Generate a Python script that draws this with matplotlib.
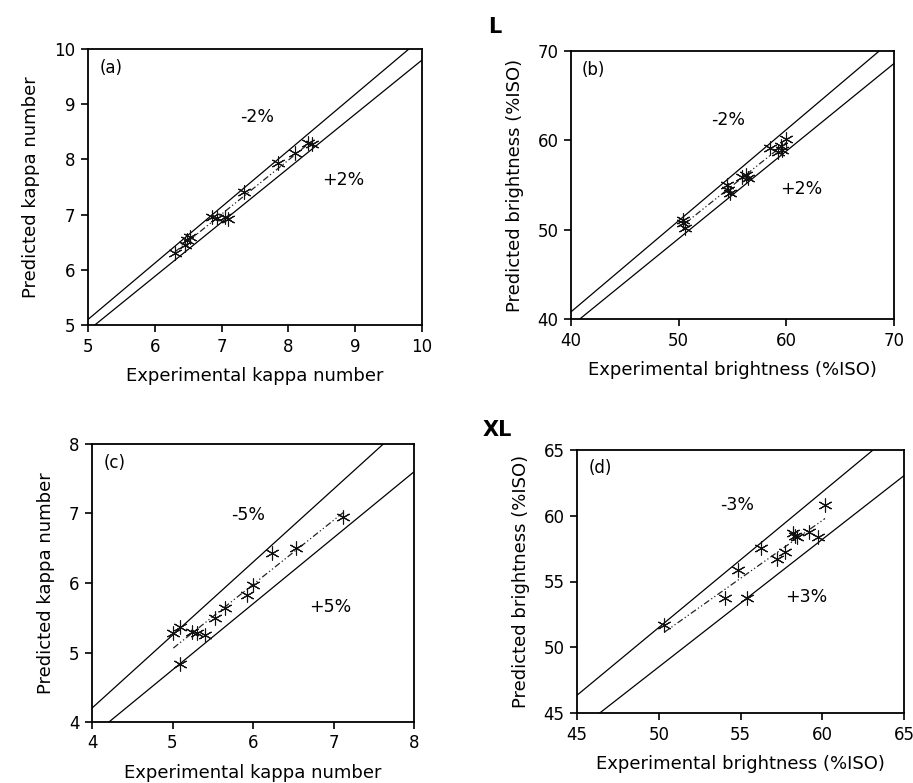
import numpy as np
import matplotlib
matplotlib.use("Agg")
import matplotlib.pyplot as plt

plt.rcParams['font.family'] = ['DejaVu Sans']

# ---------------- data ----------------
# (a) L kappa
a_exp = [6.30, 6.45, 6.48, 6.53, 6.85, 6.93, 7.05, 7.10, 7.33, 7.85, 8.10, 8.30, 8.35]
a_pred = [6.30, 6.45, 6.54, 6.60, 6.96, 6.93, 6.96, 6.92, 7.41, 7.93, 8.11, 8.29, 8.27]
# (b) L brightness
b_exp = [50.4, 50.6, 50.4, 54.5, 54.6, 54.8, 55.9, 56.3, 56.4, 58.5, 59.25, 59.6, 60.0, 59.5]
b_pred = [51.1, 50.15, 50.7, 55.0, 54.45, 54.1, 55.9, 56.1, 55.8, 59.1, 58.7, 58.9, 60.2, 59.4]
# (c) XL kappa
c_exp = [5.01, 5.09, 5.09, 5.24, 5.30, 5.40, 5.53, 5.65, 5.92, 6.00, 6.23, 6.54, 7.12]
c_pred = [5.28, 5.37, 4.84, 5.30, 5.28, 5.25, 5.49, 5.64, 5.83, 5.97, 6.43, 6.50, 6.95]
# (d) XL brightness
d_exp = [50.34, 54.05, 55.38, 54.87, 56.25, 57.21, 57.72, 58.23, 58.33, 58.43, 59.21, 59.76, 60.17]
d_pred = [51.69, 53.72, 53.72, 55.87, 57.52, 56.71, 57.27, 58.71, 58.46, 58.40, 58.79, 58.41, 60.82]

panels = [
    dict(label="(a)", x=a_exp, y=a_pred, lim=(5, 10), ticks=[5, 6, 7, 8, 9, 10], tol=0.02,
         upper="-2%", lower="+2%", up_pos=(7.53, 8.77), lo_pos=(8.82, 7.63),
         xlabel="Experimental kappa number", ylabel="Predicted kappa number",
         rect=[88, 49, 422, 325]),
    dict(label="(b)", x=b_exp, y=b_pred, lim=(40, 70), ticks=[40, 50, 60, 70], tol=0.02,
         upper="-2%", lower="+2%", up_pos=(54.6, 62.3), lo_pos=(61.4, 54.6),
         xlabel="Experimental brightness (%ISO)", ylabel="Predicted brightness (%ISO)",
         rect=[571, 51, 894, 319]),
    dict(label="(c)", x=c_exp, y=c_pred, lim=(4, 8), ticks=[4, 5, 6, 7, 8], tol=0.05,
         upper="-5%", lower="+5%", up_pos=(5.94, 6.98), lo_pos=(6.96, 5.66),
         xlabel="Experimental kappa number", ylabel="Predicted kappa number",
         rect=[92, 444, 414, 722]),
    dict(label="(d)", x=d_exp, y=d_pred, lim=(45, 65), ticks=[45, 50, 55, 60, 65], tol=0.03,
         upper="-3%", lower="+3%", up_pos=(54.77, 60.82), lo_pos=(59.05, 53.84),
         xlabel="Experimental brightness (%ISO)", ylabel="Predicted brightness (%ISO)",
         rect=[577, 450, 904, 713]),
]

W, H = 913, 783
fig = plt.figure(figsize=(W / 100, H / 100), dpi=100)
fs = 12.5

for p in panels:
    x0, y0, x1, y1 = p["rect"]
    ax = fig.add_axes([x0 / W, 1 - y1 / H, (x1 - x0) / W, (y1 - y0) / H])
    lo, hi = p["lim"]
    xs = np.array([lo, hi])
    ax.plot(xs, xs * (1 + p["tol"]), color="black", lw=0.9)
    ax.plot(xs, xs * (1 - p["tol"]), color="black", lw=0.9)
    xarr = np.array(p["x"])
    yarr = np.array(p["y"])
    k, b = np.polyfit(xarr, yarr, 1)
    xt = np.array([xarr.min(), xarr.max()])
    ax.plot(xt, k * xt + b, color="#222222", lw=0.9, linestyle=(0, (5, 2, 1, 2, 1, 2)))
    ax.plot(xarr, yarr, linestyle="none", marker=(6, 2, 0), markersize=10,
            markeredgewidth=0.8, color="#111111")
    ax.set_xlim(lo, hi)
    ax.set_ylim(lo, hi)
    ax.set_xticks(p["ticks"])
    ax.set_yticks(p["ticks"])
    ax.tick_params(direction="out", length=5, width=1.2, labelsize=12,
                   top=False, right=False, pad=4)
    for s in ax.spines.values():
        s.set_linewidth(1.3)
    ax.set_xlabel(p["xlabel"], fontsize=13, labelpad=8)
    ax.set_ylabel(p["ylabel"], fontsize=13, labelpad=10)
    ax.text(0.07, 0.93, p["label"], transform=ax.transAxes, fontsize=12,
            ha="center", va="center")
    ax.text(*p["up_pos"], p["upper"], fontsize=fs, ha="center", va="center")
    ax.text(*p["lo_pos"], p["lower"], fontsize=fs, ha="center", va="center")

fig.text(495 / W, 1 - 27 / H, "L", fontsize=15, fontweight="bold", ha="center", va="center")
fig.text(497 / W, 1 - 430 / H, "XL", fontsize=15, fontweight="bold", ha="center", va="center")

fig.savefig("out.png", dpi=100)
